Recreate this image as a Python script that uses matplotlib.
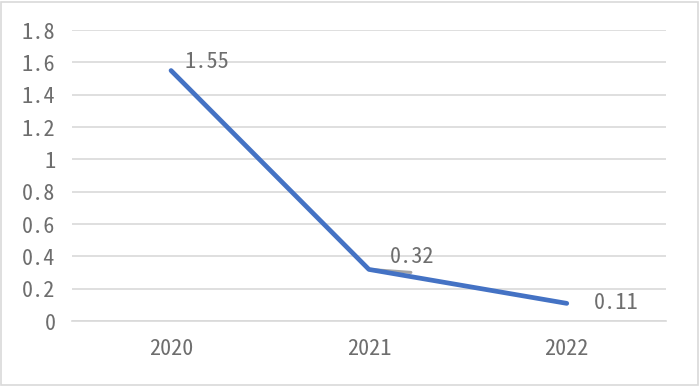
import matplotlib.pyplot as plt
from matplotlib.patches import Rectangle

plt.rcParams['font.family'] = ['Noto Sans Mono CJK SC', 'Noto Sans CJK SC', 'DejaVu Sans']

years = ['2020', '2021', '2022']
values = [1.55, 0.32, 0.11]
value_labels = ['1.55', '0.32', '0.11']
yticks = [0, 0.2, 0.4, 0.6, 0.8, 1, 1.2, 1.4, 1.6, 1.8]
ytick_labels = ['0', '0.2', '0.4', '0.6', '0.8', '1', '1.2', '1.4', '1.6', '1.8']

fig = plt.figure(figsize=(7, 3.86), dpi=100)
ax = fig.add_axes([0.103, 0.168, 0.848, 0.754])

x = [i + 0.5 for i in range(len(years))]
ax.plot(x, values, color='#4472C4', linewidth=3.4, solid_capstyle='round', zorder=3)

# data labels (offsets in pixels)
offsets = [(13, 9), (21, 12), (27, 0)]
for xi, v, lab, off in zip(x, values, value_labels, offsets):
    ax.annotate(lab, (xi, v), xytext=off, textcoords='offset pixels',
                ha='left', va='center', fontsize=16, color='#6E6E6E', zorder=4)

# grey leader line of the 2021 label, peeking out above the line
ax.annotate('', (x[1], values[1]), xytext=(42, -3), textcoords='offset pixels',
            arrowprops=dict(arrowstyle='-', color='#A5A5A5', lw=2.2, shrinkA=0, shrinkB=0),
            zorder=2)

ax.set_xlim(0, 3)
ax.set_ylim(0, 1.8)
ax.set_xticks(x)
ax.set_xticklabels(years)
ax.set_yticks(yticks)
ax.set_yticklabels(ytick_labels)
ax.tick_params(axis='both', length=0, labelsize=16, colors='#6E6E6E')
ax.tick_params(axis='x', pad=12)
ax.tick_params(axis='y', pad=12)
ax.grid(axis='y', color='#D9D9D9', linewidth=1.2)
ax.set_axisbelow(True)
for s in ['top', 'right', 'left']:
    ax.spines[s].set_visible(False)
ax.spines['bottom'].set_color('#D9D9D9')
ax.spines['bottom'].set_linewidth(1.2)

fig.patches.append(Rectangle((0.002, 0.003), 0.995, 0.993, transform=fig.transFigure,
                             fill=False, edgecolor='#D9D9D9', linewidth=1.2))

fig.savefig('out.png', dpi=100)
